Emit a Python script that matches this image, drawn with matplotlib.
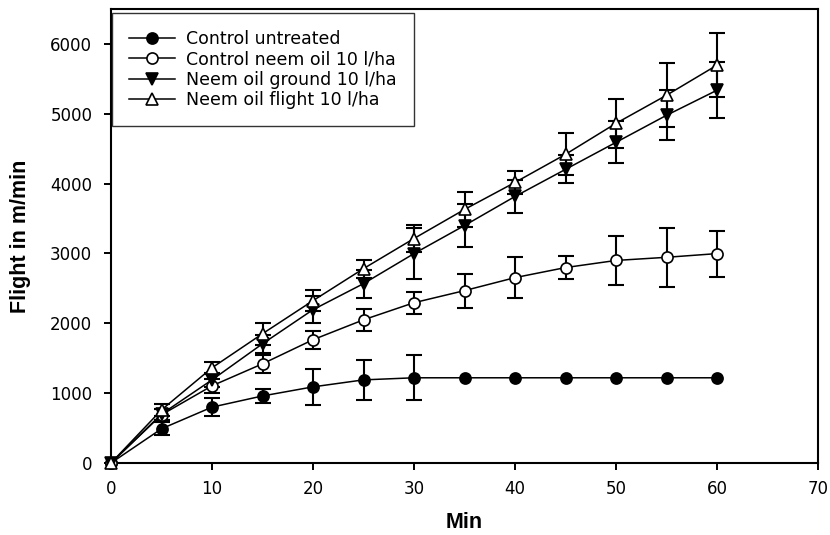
import numpy as np
import matplotlib
matplotlib.use("Agg")
import matplotlib.pyplot as plt

plt.rcParams['font.family'] = ['DejaVu Sans']

minutes = [0, 5, 10, 15, 20, 25, 30, 35, 40, 45, 50, 55, 60]

control = [0, 490, 800, 960, 1090, 1190, 1220, 1220, 1220, 1220, 1220, 1220, 1220]
control_err = [0, 90, 130, 100, 255, 290, 320, 0, 0, 0, 0, 0, 0]

neem_ctrl = [0, 690, 1105, 1420, 1765, 2050, 2295, 2468, 2654, 2798, 2900, 2945, 2998]
neem_ctrl_err = [0, 80, 100, 130, 130, 160, 155, 245, 290, 160, 350, 420, 330]

ground = [0, 700, 1190, 1707, 2195, 2568, 2998, 3400, 3816, 4204, 4591, 4978, 5337]
ground_err = [0, 80, 100, 130, 190, 200, 360, 310, 230, 200, 300, 360, 400]

flight = [0, 760, 1363, 1851, 2324, 2783, 3214, 3630, 4017, 4419, 4863, 5265, 5696]
flight_err = [0, 90, 90, 160, 150, 130, 190, 250, 160, 300, 350, 455, 460]

labels = ["Control untreated", "Control neem oil 10 l/ha",
          "Neem oil ground 10 l/ha", "Neem oil flight 10 l/ha"]

fig = plt.figure(figsize=(8.3, 5.35), dpi=100)
ax = fig.add_axes([111 / 830, 1 - 463 / 535, (818 - 111) / 830, (463 - 9) / 535])

series = [
    (control, control_err, 'o', 'black'),
    (neem_ctrl, neem_ctrl_err, 'o', 'white'),
    (ground, ground_err, 'v', 'black'),
    (flight, flight_err, '^', 'white'),
]

x = np.array(minutes)
for (vals, err, mk, fc), lab in zip(series, labels):
    vals = np.array(vals)
    err = np.array(err)
    keep = err > 0
    ax.errorbar(x[keep], vals[keep], yerr=err[keep], fmt='none',
                ecolor='black', elinewidth=1.5, capsize=6, capthick=1.5,
                zorder=2)
    ax.plot(x, vals, color='black', marker=mk, markerfacecolor=fc,
            markeredgecolor='black', markersize=8, markeredgewidth=1.2,
            linewidth=1.1, label=lab, clip_on=False, zorder=3)

ax.set_xlim(0, 70)
ax.set_ylim(0, 6500)
ax.set_xticks(range(0, 71, 10))
ax.set_yticks(range(0, 6001, 1000))
ax.tick_params(direction='out', length=5, width=1.4, labelsize=12)
ax.tick_params(axis='x', pad=7)
ax.tick_params(axis='y', pad=8.5)
for s in ax.spines.values():
    s.set_linewidth(1.5)

ax.set_xlabel('Min', fontsize=15.5, fontweight='bold', labelpad=10,
              family='Liberation Sans')
ax.set_ylabel('Flight in m/min', fontsize=15.5, fontweight='bold',
              labelpad=14, family='Liberation Sans')

leg = ax.legend(loc='upper left', bbox_to_anchor=(0.0015, 0.991),
                borderaxespad=0.0, frameon=True, fancybox=False,
                edgecolor='black', fontsize=12.5, handlelength=2.6,
                borderpad=1.0, labelspacing=0.12, handletextpad=0.65)
leg.get_frame().set_linewidth(1.0)

plt.savefig('out.png', dpi=100)
